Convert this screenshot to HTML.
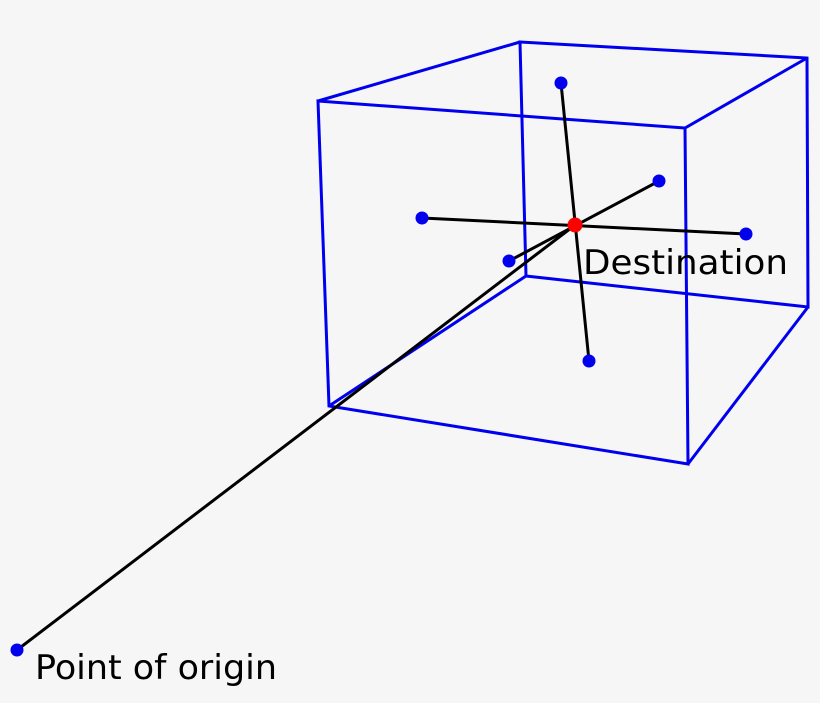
<!DOCTYPE html>
<html><head><style>html,body{margin:0;padding:0;background:#f6f6f6}svg{display:block}</style></head>
<body>
<svg width="820" height="703" viewBox="0 0 820 703" xmlns="http://www.w3.org/2000/svg">
<rect width="820" height="703" fill="#f6f6f6"/>
<g stroke="#0000ee" stroke-width="3" fill="none" stroke-linejoin="miter">
<polygon points="520,42 807,58 808,307 526,276"/>
<line x1="318" y1="101" x2="520" y2="42"/>
<line x1="685" y1="128" x2="807" y2="58"/>
<line x1="688" y1="464" x2="808" y2="307"/>
<line x1="329" y1="406" x2="526" y2="276"/>
<polygon points="318,101 685,128 688,464 329,406"/>
</g>
<g stroke="#000" stroke-width="3">
<line x1="17" y1="650" x2="575" y2="225"/>
<line x1="509" y1="261" x2="659" y2="181"/>
<line x1="422" y1="218" x2="746" y2="234"/>
<line x1="561" y1="83" x2="589" y2="361"/>
</g>
<g fill="#0000ee">
<circle cx="17" cy="650" r="6.5"/>
<circle cx="509" cy="261" r="6.5"/>
<circle cx="659" cy="181" r="6.5"/>
<circle cx="422" cy="218" r="6.5"/>
<circle cx="746" cy="234" r="6.5"/>
<circle cx="561" cy="83" r="6.5"/>
<circle cx="589" cy="361" r="6.5"/>
</g>
<circle cx="575" cy="225" r="7.5" fill="#ff0000"/>
<g font-family="'DejaVu Sans', 'Liberation Sans', sans-serif" font-size="34" fill="#000">
<text x="583" y="274" textLength="205" lengthAdjust="spacingAndGlyphs">Destination</text>
<text x="35" y="679" textLength="242" lengthAdjust="spacingAndGlyphs">Point of origin</text>
</g>
</svg>
</body></html>
